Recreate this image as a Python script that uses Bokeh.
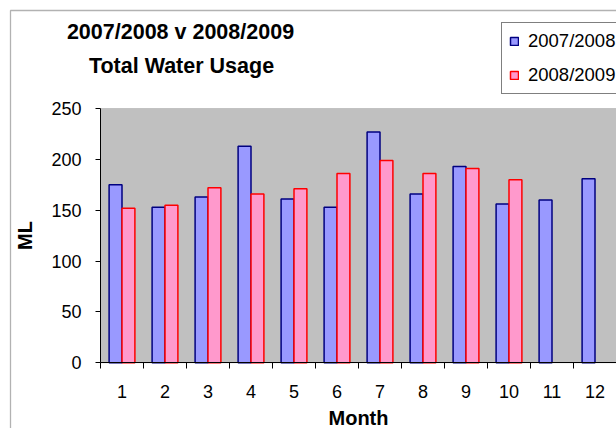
from bokeh.plotting import figure
from bokeh.models import (ColumnDataSource, Range1d, FixedTicker, Legend, LegendItem,
                          Label, BoxAnnotation)
from bokeh.transform import dodge
from bokeh.embed import file_html
from bokeh.resources import INLINE

# ---- data ----
months = [1, 2, 3, 4, 5, 6, 7, 8, 9, 10, 11, 12]
usage_0708 = [175, 153, 163, 213, 161, 153, 227, 166, 193, 156, 160, 181]
months_0809 = [1, 2, 3, 4, 5, 6, 7, 8, 9, 10]
usage_0809 = [152, 155, 172, 166, 171, 186, 199, 186, 191, 180]
series_names = ["2007/2008", "2008/2009"]
y_ticks = [0, 50, 100, 150, 200, 250]
title_lines = ["2007/2008 v 2008/2009", "Total Water Usage"]

FONT = "Liberation Sans"
W, H = 616, 428
# plot-area placement in pixels (layout only)
PA_LEFT, PA_TOP, PA_BOTTOM = 100.0, 108.0, 362.3
cat_px = 43.0
y_px = (PA_BOTTOM - PA_TOP) / (y_ticks[-1] - y_ticks[0])

x0 = months[0] - 0.5
x_start = x0 - PA_LEFT / cat_px
x_end = x0 + (W - PA_LEFT) / cat_px
y_start = y_ticks[0] - (H - PA_BOTTOM) / y_px
y_end = y_ticks[-1] + PA_TOP / y_px

src1 = ColumnDataSource(dict(month=months, usage=usage_0708))
src2 = ColumnDataSource(dict(month=months_0809, usage=usage_0809))

p = figure(width=W, height=H, output_backend="svg", toolbar_location=None,
           x_range=Range1d(x_start, x_end), y_range=Range1d(y_start, y_end),
           min_border=0, title=None)
p.background_fill_color = "white"
p.border_fill_color = "white"
p.outline_line_color = None
p.xgrid.visible = False
p.ygrid.visible = False

# chart-area border (left and top edges)
p.add_layout(BoxAnnotation(left=10, right=W + 50, bottom=-50, top=H - 10,
                           left_units="screen", right_units="screen",
                           bottom_units="screen", top_units="screen",
                           fill_alpha=0, line_color="black", line_width=1.3))

# plot area
p.add_layout(BoxAnnotation(left=x0, bottom=y_ticks[0], top=y_ticks[-1],
                           fill_color="#C0C0C0", fill_alpha=1.0,
                           line_color="#808080", line_width=1, level="underlay"))

r1 = p.vbar(x=dodge("month", -0.15), top="usage", width=0.3, source=src1,
            fill_color="#9999FF", line_color="#000080", line_width=1.5)
r2 = p.vbar(x=dodge("month", 0.15), top="usage", width=0.3, source=src2,
            fill_color="#FF99CC", line_color="#FF0000", line_width=1.5)

# x axis
xa = p.xaxis[0]
xa.fixed_location = y_ticks[0]
xa.bounds = (x0, months[-1] + 0.5)
xa.ticker = FixedTicker(ticks=months, minor_ticks=[m - 0.5 for m in months])
xa.major_tick_out = 0
xa.major_tick_in = 0
xa.minor_tick_out = 6
xa.minor_tick_in = 0
xa.minor_tick_line_color = "black"
xa.axis_line_color = "black"
xa.major_label_standoff = 16
xa.major_label_text_font = FONT
xa.major_label_text_font_size = "18px"
xa.major_label_text_color = "black"
xa.axis_label = "Month"
xa.axis_label_text_font = FONT
xa.axis_label_text_font_size = "20px"
xa.axis_label_text_font_style = "bold"
xa.axis_label_text_color = "black"
xa.axis_label_standoff = 6

# y axis
ya = p.yaxis[0]
ya.fixed_location = x0
ya.ticker = FixedTicker(ticks=y_ticks, minor_ticks=[])
ya.bounds = (y_ticks[0], y_ticks[-1])
ya.major_tick_out = 5
ya.major_tick_in = 0
ya.minor_tick_out = 0
ya.minor_tick_in = 0
ya.major_tick_line_color = "black"
ya.axis_line_color = "black"
ya.major_label_standoff = 14
ya.major_label_text_font = FONT
ya.major_label_text_font_size = "18px"
ya.major_label_text_color = "black"
ya.axis_label = "ML"
ya.axis_label_text_font = FONT
ya.axis_label_text_font_size = "20px"
ya.axis_label_text_font_style = "bold"
ya.axis_label_text_color = "black"
ya.axis_label_standoff = 12

# legend
legend = Legend(items=[LegendItem(label=series_names[0], renderers=[r1]),
                       LegendItem(label=series_names[1], renderers=[r2])],
                location=(501, H - 94), orientation="vertical", margin=0, padding=7,
                spacing=12, glyph_width=10, glyph_height=10, label_height=21,
                label_standoff=9, label_text_font=FONT, label_text_font_size="18.5px",
                label_text_color="black", border_line_color="black", border_line_width=1,
                background_fill_color="white", background_fill_alpha=1.0)
p.add_layout(legend, "center")

# titles
p.add_layout(Label(x=180, y=H - 31, x_units="screen", y_units="screen",
                   text=title_lines[0], text_align="center", text_baseline="middle",
                   text_font=FONT, text_font_size="21.5px", text_font_style="bold",
                   text_color="black"))
p.add_layout(Label(x=181, y=H - 65, x_units="screen", y_units="screen",
                   text=title_lines[1], text_align="center", text_baseline="middle",
                   text_font=FONT, text_font_size="21.5px", text_font_style="bold",
                   text_color="black"))

# white cover for the blank corner below the axis, right of the last label
p.add_layout(BoxAnnotation(left=W - 9, right=W + 5, bottom=-5, top=H - PA_BOTTOM - 12,
                           left_units="screen", right_units="screen",
                           bottom_units="screen", top_units="screen",
                           fill_color="white", fill_alpha=1.0, line_color=None,
                           level="overlay"))

open("out.html", "w").write(file_html(p, INLINE))
